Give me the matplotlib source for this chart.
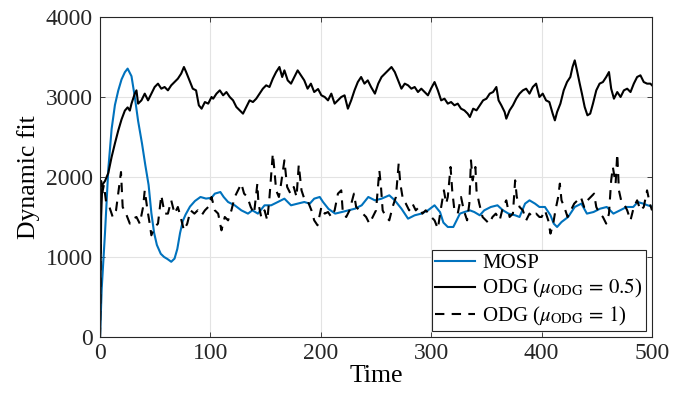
import matplotlib
matplotlib.use("Agg")
import matplotlib.pyplot as plt

#CONFIGURACION

#fuentes tipo Times como en MATLAB
plt.rcParams["font.family"] = ["Liberation Serif", "DejaVu Serif"]
plt.rcParams["mathtext.fontset"] = "stix"

OUTPUT_FILE = "out.png"
BLUE = "#0072BD"

#DATOS

#MOSP
mosp_t = [0, 1.5, 4.5, 7.5, 10.5, 13.5, 16.5, 19.5, 22.5, 25, 28.5, 31.5, 34.5, 38, 41, 44,
          46.5, 49, 51.5, 55, 58, 61, 64.5, 67.5, 70, 72.5, 75, 77.5, 81.5, 86, 91, 96,
          101, 104, 109, 112, 116, 122, 128, 134, 138, 143, 149, 155, 161, 167, 173, 179,
          185, 190, 194, 199, 202, 207, 213, 219, 225, 231, 237, 243, 249, 255, 262, 267,
          273, 279, 285, 291, 297, 303, 308, 311, 315, 320, 323, 326, 330, 335, 339, 344,
          348, 354, 360, 365, 370, 376, 380, 385, 389, 394, 398, 403, 408, 411, 414, 418,
          424, 430, 436, 441, 447, 453, 459, 465, 471, 477, 483, 487, 492, 496, 500]
mosp_v = [0, 600, 1300, 2100, 2600, 2900, 3080, 3220, 3310, 3355, 3260, 3000, 2700, 2420, 2150, 1900,
          1550, 1300, 1150, 1040, 1000, 975, 940, 980, 1100, 1300, 1450, 1530, 1630, 1700, 1750, 1730,
          1740, 1792, 1812, 1750, 1687, 1646, 1583, 1542, 1583, 1542, 1646, 1646, 1687, 1729, 1646, 1667,
          1687, 1667, 1729, 1750, 1687, 1600, 1542, 1562, 1583, 1604, 1646, 1750, 1708, 1729, 1771, 1708,
          1604, 1479, 1521, 1542, 1583, 1646, 1560, 1430, 1375, 1375, 1458, 1542, 1562, 1583, 1562, 1521,
          1583, 1625, 1646, 1583, 1542, 1521, 1500, 1667, 1708, 1667, 1625, 1625, 1521, 1417, 1375, 1437,
          1500, 1625, 1667, 1542, 1562, 1604, 1625, 1542, 1583, 1625, 1625, 1687, 1667, 1646, 1630]

#ODG con mu = 0.5
odg05_t = [0, 1, 2, 4.5, 7.5, 10.5, 13.5, 16.5, 19.5, 22.5, 25, 27, 28.5, 31.5, 33, 34.5, 37.5,
           40.5, 43.5, 46.5, 49.5, 52.5, 55.5, 58.5, 61.5, 64.5, 67.5, 70.5, 73.5, 76, 78, 81,
           84, 87, 89.5, 92, 95, 98, 101, 102.5, 105.5, 108.5, 111.5, 114.5, 117.5, 120.5, 123.5,
           126.5, 129.5, 132.5, 135.5, 138.5, 141.5, 144.5, 147.5, 150.5, 153.5, 156.5, 159.5,
           162.5, 165, 167, 170, 173, 176, 179, 182, 185, 188, 191, 194, 197.5, 200.5, 203.5,
           206.5, 209.5, 212.5, 215.5, 218.5, 221.5, 224.5, 227.5, 230.5, 233.5, 236.5, 239.5,
           242.5, 245.5, 249, 252, 255, 258, 261, 264, 267, 270, 273, 276, 279, 282, 285, 288,
           291, 294, 297, 300, 303, 306, 309, 312, 315, 318, 321, 324, 327, 330, 333, 335, 338,
           341, 344, 347, 350, 353, 356, 359, 361, 363.5, 366.5, 368, 371, 374, 377, 380, 383,
           386, 389, 392, 395, 398, 401, 404, 407, 410, 412, 414, 417, 420, 423, 426, 428, 430,
           432, 434.5, 436.5, 439, 441.5, 444, 446.5, 449.5, 452.5, 455.5, 458.5, 461, 463,
           465.5, 468.5, 471.5, 474.5, 477.5, 480.5, 483.5, 486.5, 489.5, 492.5, 495.5, 498.5, 500]
odg05_v = [0, 1500, 1900, 1950, 2050, 2250, 2420, 2580, 2720, 2830, 2870, 2830, 2917, 3042, 3083, 2917, 2958,
           3042, 2958, 3042, 3125, 3167, 3104, 3125, 3083, 3146, 3187, 3229, 3292, 3375, 3312, 3208,
           3104, 3083, 2896, 2854, 2937, 2917, 3000, 2979, 3042, 3083, 3021, 3062, 3000, 2958, 2875,
           2833, 2792, 2875, 2958, 2937, 2979, 3042, 3104, 3146, 3125, 3229, 3312,
           3375, 3250, 3333, 3208, 3167, 3250, 3333, 3271, 3208, 3104, 3167, 3062, 3100, 3021, 3000,
           2958, 3042, 2917, 2958, 3000, 3021, 2854, 2958, 3083, 3187, 3250, 3167,
           3208, 3125, 3042, 3167, 3250, 3292, 3333, 3375, 3312, 3208, 3104, 3167, 3146, 3104, 3125, 3062,
           3104, 3062, 3021, 3110, 3187, 3083, 2958, 2979, 2917, 2937, 2896, 2917, 2854, 2833, 2792, 2750, 2854,
           2833, 2896, 2958, 2979, 3042, 3062, 3125, 2958, 2896, 2812, 2729, 2833, 2896, 2979, 3042, 3083,
           3104, 3042, 3125, 3167, 3000, 3042, 2958, 2937, 2792, 2708, 2812, 2917, 3083, 3187, 3250, 3375, 3458,
           3333, 3167, 3042, 2875, 2771, 2792, 2917, 3083, 3167, 3187, 3250, 3312, 3104,
           2979, 3062, 3000, 3083, 3104, 3062, 3167, 3250, 3271, 3187, 3167, 3167, 3146]

#ODG con mu = 1
odg1_t = [0, 1, 2, 3.5, 5.5, 8.5, 11.5, 14.5, 19, 20.5, 23.5, 27, 30, 33, 36, 39, 40.5, 43, 45,
          46.5, 49.5, 52.5, 55.5, 58.5, 61.5, 64.5, 67.5, 70.5, 73, 76, 79, 82, 85.5, 88.5, 92,
          95, 98, 101, 104, 107, 110, 113, 116, 119, 122, 125, 128, 130.5, 133.5, 136.5, 139.5,
          142.5, 143.5, 146, 149, 151.5, 153.5, 156.5, 158, 159.5, 162, 164, 167, 169.5, 172.5,
          175.5, 178, 180, 182.5, 185.5, 188.5, 191.5, 194, 197, 200.5, 203.5, 206.5, 209.5,
          212.5, 215.5, 218.5, 220, 223, 226, 230, 232, 235, 238, 241, 244, 247, 250, 253,
          254.5, 256, 259, 262, 265, 268, 270.5, 272, 274.5, 277, 280, 283, 286, 289, 292, 295,
          298, 300, 303, 306, 309, 311.5, 313.5, 315, 317.5, 319, 321, 324, 327, 329.5, 332.5,
          334.5, 336, 337.5, 340, 341, 343.5, 346.5, 349.5, 352.5, 355.5, 358.5, 362, 365, 368,
          371, 374, 376, 377.5, 380, 383, 386, 389, 392, 395, 398, 400, 403, 406, 408, 410.5,
          412.5, 415, 416.5, 418, 420.5, 423.5, 426.5, 429.5, 432.5, 435.5, 438.5, 441.5, 444.5,
          447.5, 449.5, 452.5, 455.5, 458.5, 461, 463, 464.5, 467, 468.5, 470, 472, 474.5, 477.5,
          480.5, 483.5, 486.5, 489.5, 492.5, 495.5, 498, 500]
odg1_v = [0, 1950, 1800, 1900, 1687, 1625, 1500, 1583, 2062, 1625, 1542, 1417, 1479, 1500, 1417, 1625, 1833, 1583, 1417,
          1271, 1375, 1417, 1771, 1542, 1542, 1708, 1542, 1625, 1500, 1333, 1417, 1583, 1542, 1583, 1521,
          1583, 1625, 1750, 1583, 1542, 1333, 1500, 1458, 1583, 1750, 1833, 1917, 1792, 1750, 1625, 1542,
          1917, 1667, 1500, 1583, 1458, 1750, 2292, 2083, 1833, 1750, 1917, 2208, 1875, 1792,
          1875, 1750, 2150, 1833, 1708, 1687, 1583, 1458, 1396, 1625, 1542, 1562, 1500,
          1583, 1792, 1833, 1542, 1500, 1583, 1792, 1625, 1583, 1542, 1500, 1417, 1500, 1583, 2083,
          1875, 1583, 1500, 1458, 1625, 1750, 2167, 1917, 1708, 1667, 1583, 1667, 1583, 1625, 1542, 1583,
          1542, 1500, 1458, 1354, 1625, 1833, 1667, 1750, 2125, 1833, 1583, 1542, 1750, 1583, 1458,
          1667, 2208, 1958, 2125, 1833, 1667, 1500, 1458, 1417, 1500, 1542, 1458, 1625, 1708,
          1500, 1542, 1958, 1750, 1625, 1583, 1458, 1542, 1500, 1542, 1500, 1500, 1583, 1458, 1292, 1417,
          1583, 1750, 1917, 1708, 1625, 1500, 1583, 1667, 1708, 1750, 1625, 1708, 1750,
          1792, 1625, 1542, 1500, 1417, 1542, 1958, 2125, 1917, 2292, 1833, 1708, 1667, 1583,
          1458, 1625, 1708, 1583, 1625, 1833, 1667, 1583]

x_ticks = [0, 100, 200, 300, 400, 500]
y_ticks = [0, 1000, 2000, 3000, 4000]

#FIGURA

fig = plt.figure(figsize=(6.87, 4.05), dpi=100)
ax = fig.add_axes([0.1456, 0.168, 0.8035, 0.790])

ax.plot(mosp_t, mosp_v, color=BLUE, lw=1.5, label="MOSP")
ax.plot(odg05_t, odg05_v, color="black", lw=1.5, label=r"ODG ($\mu_{\mathrm{ODG}}\,=\,0.5$)")
ax.plot(odg1_t, odg1_v, color="black", lw=1.5, ls=(0, (4.5, 3.5)),
        label=r"ODG ($\mu_{\mathrm{ODG}}\,=\,1$)")

ax.set_xlim(0, 500)
ax.set_ylim(0, 4000)
ax.set_xticks(x_ticks)
ax.set_yticks(y_ticks)

#estilo MATLAB: ticks hacia dentro en los cuatro lados y rejilla suave
ax.tick_params(direction="in", top=True, right=True, length=3.5, width=0.6,
               labelsize=17, colors="#262626")
ax.tick_params(axis="y", pad=5)
ax.tick_params(axis="x", pad=4)
ax.grid(True, color="#e3e3e3", lw=0.8)
ax.set_axisbelow(True)
for s in ax.spines.values():
    s.set_color("#262626")
    s.set_linewidth(0.8)

ax.set_xlabel("Time", fontsize=18.5, labelpad=1)
ax.set_ylabel("Dynamic fit", fontsize=18.5, labelpad=4)

leg = ax.legend(loc="lower right", fontsize=15, fancybox=False, framealpha=1,
                edgecolor="#262626", borderaxespad=0.3, handlelength=1.9,
                handletextpad=0.35, labelspacing=0.2, borderpad=0.15)
leg.get_frame().set_linewidth(0.8)

fig.savefig(OUTPUT_FILE, dpi=100)
plt.close(fig)
